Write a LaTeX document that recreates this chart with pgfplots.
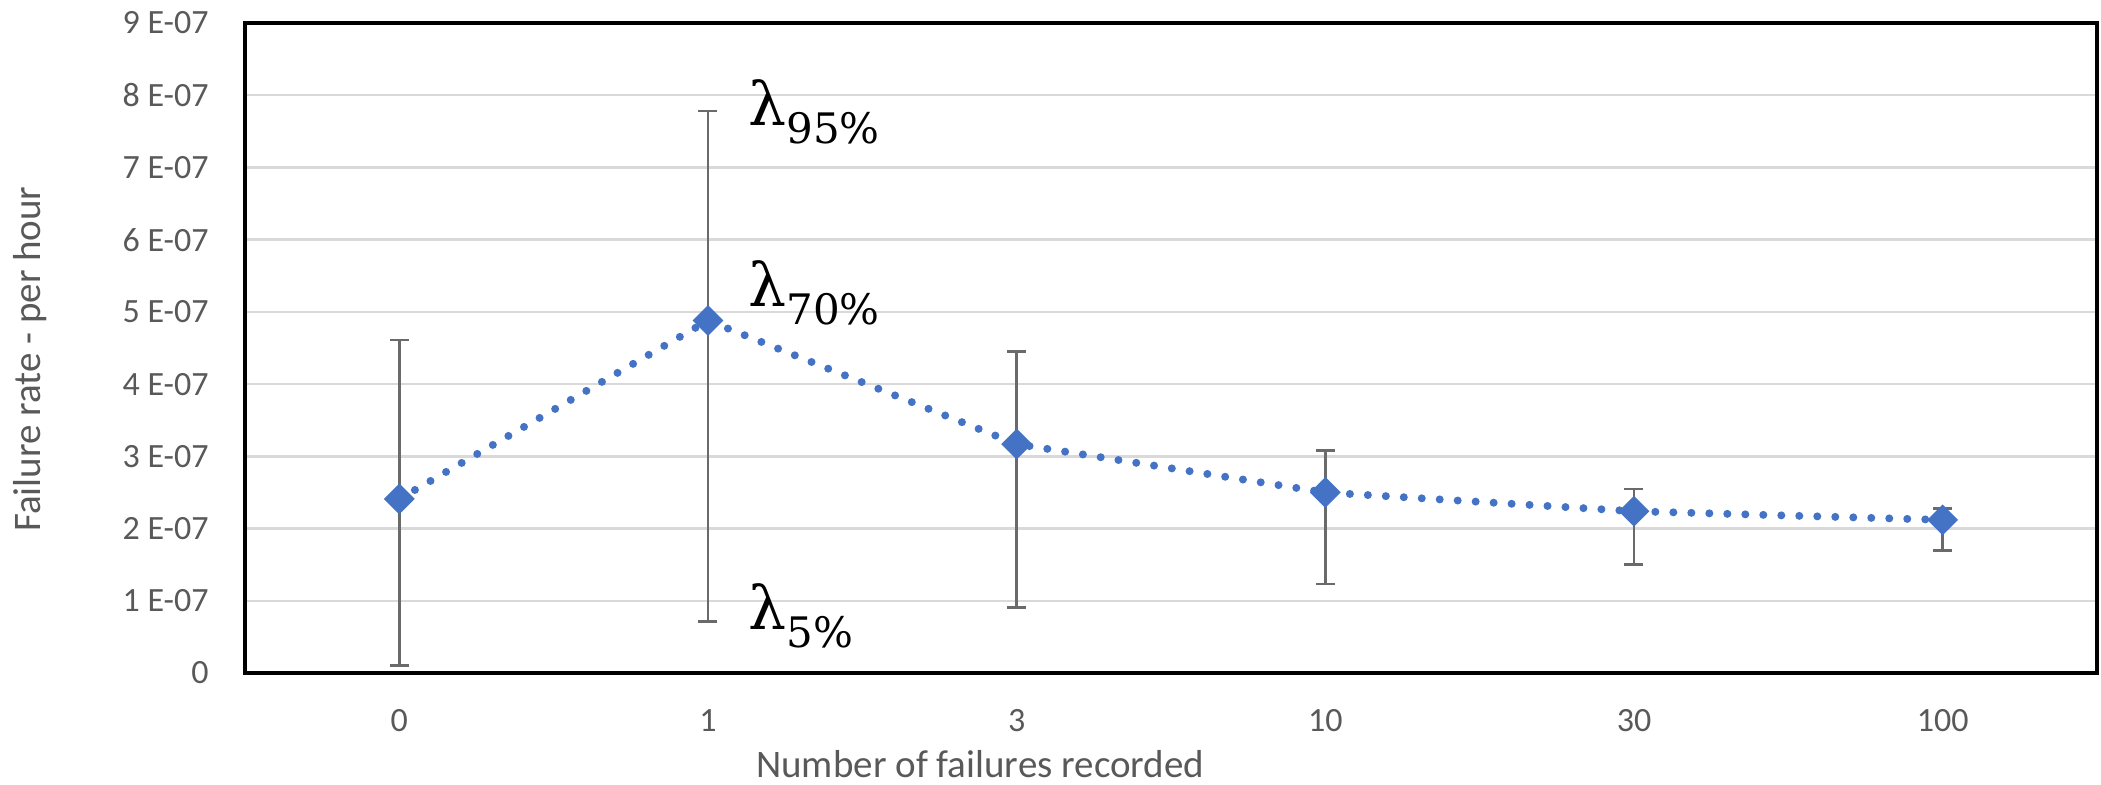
\documentclass[border=0pt]{standalone}
\usepackage{pgfplots}
\usepackage{pgfplotstable}
\pgfplotsset{compat=1.18}
\usepackage{fontspec}
\setmainfont{Carlito}
\newfontfamily\lamfont{DejaVu Serif}
\definecolor{exblue}{HTML}{4472C4}
\definecolor{txtgray}{HTML}{595959}
\definecolor{gridgray}{HTML}{D9D9D9}
\definecolor{errgray}{HTML}{6A6A6A}

\pgfplotstableread{
x   y        lo       hi
0.5 2.41e-7  0.10e-7  4.61e-7
1.5 4.88e-7  0.71e-7  7.78e-7
2.5 3.17e-7  0.91e-7  4.45e-7
3.5 2.50e-7  1.23e-7  3.08e-7
4.5 2.24e-7  1.50e-7  2.55e-7
5.5 2.12e-7  1.70e-7  2.28e-7
}\datatab

\newcommand{\lam}[1]{{\lamfont\fontsize{30}{31}\selectfont λ\raisebox{-9pt}{\fontsize{21}{22}\selectfont #1}}}

\begin{document}
\begin{tikzpicture}
\begin{axis}[
  at={(0,0)}, anchor=south west,
  scale only axis, width=926pt, height=325pt,
  xmin=0, xmax=6, ymin=0, ymax=9e-7,
  axis line style={draw=black, line width=2pt},
  xtick={0.5,1.5,2.5,3.5,4.5,5.5},
  xticklabels={\mbox{0},\mbox{1},\mbox{3},\mbox{10},\mbox{30},\mbox{100}},
  ytick={0,1e-7,2e-7,3e-7,4e-7,5e-7,6e-7,7e-7,8e-7,9e-7},
  yticklabels={\mbox{0},\mbox{1 E-07},\mbox{2 E-07},\mbox{3 E-07},\mbox{4 E-07},\mbox{5 E-07},\mbox{6 E-07},\mbox{7 E-07},\mbox{8 E-07},\mbox{9 E-07}},
  scaled y ticks=false,
  major tick length=0pt,
  ymajorgrids,
  grid style={draw=gridgray, line width=1.2pt},
  ticklabel style={font=\fontsize{17}{20}\selectfont, text=txtgray},
  xticklabel style={anchor=center, inner sep=0pt, yshift=-24pt},
  yticklabel style={anchor=east, inner sep=0pt, xshift=-18pt},
  xlabel={Number of failures recorded},
  ylabel={Failure rate - per hour},
  every axis x label/.style={at={(axis description cs:0.397,-0.1615)}, anchor=base, font=\fontsize{19.5}{21}\selectfont, text=txtgray},
  every axis y label/.style={at={(axis description cs:-0.1161,0.483)}, rotate=90, anchor=center, font=\fontsize{19.5}{21}\selectfont, text=txtgray},
  clip=false,
]
\addplot[draw=none, mark=none, forget plot,
  error bars/.cd, y dir=both, y explicit,
  error bar style={draw=errgray, line width=1.3pt, solid},
  error mark options={draw=errgray, rotate=90, mark size=4.75pt, line width=1.3pt}]
  table[x=x, y=y, y error plus expr=\thisrow{hi}-\thisrow{y}, y error minus expr=\thisrow{y}-\thisrow{lo}] {\datatab};
\addplot[draw=exblue, line width=4pt, line cap=round, dash pattern=on 0pt off 9pt,
  mark=square*, mark size=5.2pt, mark options={solid, rotate=45, fill=exblue, draw=exblue, line width=0.5pt}]
  table[x=x, y=y] {\datatab};
\node[anchor=base west, inner sep=0pt] at (axis cs:1.63,7.58e-7) {\lam{95\%}};
\node[anchor=base west, inner sep=0pt] at (axis cs:1.63,5.07e-7) {\lam{70\%}};
\node[anchor=base west, inner sep=0pt] at (axis cs:1.63,0.60e-7) {\lam{5\%}};
\end{axis}
\pgfresetboundingbox
\path (-122.5pt,-55.5pt) rectangle (928pt,336.5pt);
\end{tikzpicture}
\end{document}
